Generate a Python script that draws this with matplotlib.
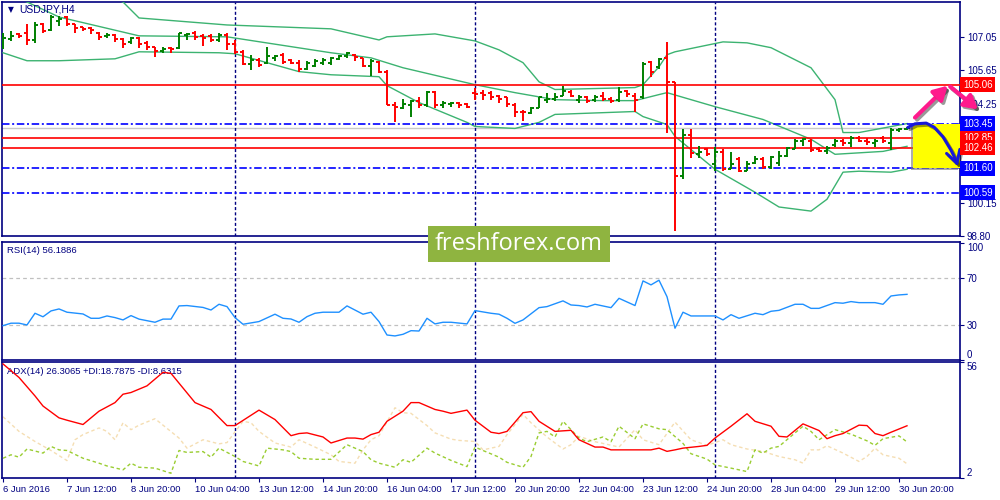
import numpy as np
import matplotlib.pyplot as plt
import matplotlib.transforms as mtransforms
import matplotlib.patheffects as pe
from matplotlib.patches import Rectangle, FancyArrowPatch
from matplotlib.path import Path

plt.rcParams['font.family'] = ['Liberation Sans', 'DejaVu Sans']

NAVY = '#000080'

# USDJPY H4 bars, 6 Jun 04:00 .. 30 Jun 20:00
opens = [106.79, 106.96, 107.16, 107.20, 106.91, 107.57, 107.33, 107.70, 107.86, 107.57,
         107.45, 107.41, 107.20, 107.08, 107.12, 106.96, 106.83, 107.00, 106.79, 106.63,
         106.46, 106.58, 106.58, 107.12, 107.20, 107.08, 107.08, 106.91, 107.12, 106.75,
         106.42, 105.93, 106.09, 105.97, 106.17, 106.30, 106.09, 105.97, 105.72, 105.84,
         105.97, 105.97, 106.13, 106.26, 106.30, 106.17, 105.84, 106.01, 105.60, 104.20,
         104.11, 104.20, 104.40, 104.20, 104.77, 104.20, 104.28, 104.32, 104.24, 104.73,
         104.73, 104.73, 104.61, 104.53, 104.20, 103.95, 103.87, 104.11, 104.44, 104.48,
         104.61, 104.77, 104.44, 104.53, 104.44, 104.61, 104.48, 104.44, 104.81, 104.61,
         104.53, 106.01, 105.80, 106.17, 105.18, 101.27, 102.96, 102.18, 102.38, 101.77,
         102.26, 101.56, 101.97, 101.48, 101.81, 101.97, 101.64, 101.81, 102.09, 102.38,
         102.71, 102.75, 102.38, 102.30, 102.55, 102.75, 102.63, 102.84, 102.75, 102.63,
         102.84, 102.63, 103.17, 103.21]
highs = [107.20, 107.29, 107.20, 107.57, 107.66, 107.62, 107.94, 107.90, 107.90, 107.57,
         107.45, 107.45, 107.24, 107.20, 107.16, 107.00, 107.04, 107.04, 106.87, 106.63,
         106.63, 106.63, 107.20, 107.20, 107.29, 107.16, 107.16, 107.20, 107.20, 106.91,
         106.50, 106.30, 106.17, 106.63, 106.30, 106.38, 106.13, 106.09, 106.05, 106.13,
         106.17, 106.21, 106.30, 106.42, 106.34, 106.17, 106.13, 106.05, 105.68, 104.36,
         104.48, 104.44, 104.57, 104.81, 104.81, 104.40, 104.36, 104.36, 104.32, 104.94,
         104.86, 104.81, 104.65, 104.57, 104.32, 104.03, 104.15, 104.57, 104.73, 104.73,
         105.02, 104.86, 104.65, 104.61, 104.65, 104.77, 104.53, 104.98, 104.86, 104.73,
         106.01, 106.05, 106.17, 106.83, 105.18, 103.21, 103.21, 102.51, 102.42, 102.47,
         102.38, 102.26, 102.05, 101.89, 102.09, 102.05, 102.09, 102.30, 102.47, 102.80,
         102.84, 102.80, 102.47, 102.51, 102.80, 102.80, 102.92, 102.92, 102.84, 102.80,
         102.92, 103.25, 103.25, 103.29]
lows = [106.54, 106.87, 107.00, 106.71, 106.79, 107.20, 107.29, 107.49, 107.49, 107.20,
        107.29, 107.16, 106.91, 107.00, 106.83, 106.58, 106.75, 106.58, 106.50, 106.21,
        106.38, 106.38, 106.54, 106.91, 106.91, 106.67, 106.83, 106.83, 106.50, 106.34,
        105.89, 105.68, 105.80, 105.93, 106.05, 105.93, 105.93, 105.60, 105.68, 105.80,
        105.89, 105.89, 106.09, 106.17, 106.05, 105.80, 105.43, 105.56, 104.20, 103.50,
        104.07, 103.74, 104.11, 104.15, 104.11, 104.11, 104.15, 104.11, 104.11, 104.44,
        104.44, 104.44, 104.32, 104.15, 103.74, 103.54, 103.83, 104.11, 104.32, 104.40,
        104.61, 104.53, 104.32, 104.32, 104.36, 104.40, 104.32, 104.36, 104.57, 103.95,
        104.48, 105.39, 105.72, 103.08, 99.01, 101.15, 102.01, 102.01, 102.10, 101.48,
        101.48, 101.56, 101.44, 101.48, 101.77, 101.56, 101.56, 101.68, 102.05, 102.38,
        102.51, 102.26, 102.26, 102.18, 102.47, 102.51, 102.47, 102.67, 102.55, 102.47,
        102.63, 102.34, 103.12, 103.17]
closes = [107.00, 107.08, 107.08, 106.91, 107.53, 107.29, 107.86, 107.78, 107.57, 107.41,
          107.37, 107.33, 107.04, 107.12, 106.96, 106.75, 107.00, 106.75, 106.63, 106.46,
          106.54, 106.54, 107.20, 107.16, 107.04, 107.00, 106.91, 107.12, 106.75, 106.42,
          105.93, 106.09, 105.89, 106.26, 106.26, 106.01, 105.97, 105.72, 105.97, 106.05,
          106.09, 106.17, 106.26, 106.38, 106.21, 105.84, 106.05, 105.60, 104.20, 104.15,
          104.24, 104.40, 104.20, 104.77, 104.20, 104.32, 104.32, 104.20, 104.15, 104.69,
          104.65, 104.57, 104.48, 104.24, 103.95, 103.91, 104.11, 104.53, 104.48, 104.53,
          104.81, 104.61, 104.57, 104.40, 104.57, 104.48, 104.40, 104.77, 104.69, 104.44,
          105.93, 105.60, 106.13, 105.18, 101.27, 102.96, 102.22, 102.26, 102.18, 102.26,
          101.56, 101.77, 101.48, 101.77, 101.97, 101.64, 102.05, 102.09, 102.42, 102.75,
          102.80, 102.34, 102.30, 102.42, 102.75, 102.63, 102.84, 102.75, 102.67, 102.75,
          102.71, 103.17, 103.21, 103.28]

# Bollinger bands (bar index, price)
upper_idx = [0, 10, 15, 17, 28, 41, 47, 48, 54, 59, 62, 65, 67, 69, 79, 80, 82, 83, 84,
             90, 93, 96, 101, 104, 105, 107, 113]
upper_val = [109.59, 109.06, 108.48, 107.82, 107.53, 107.37, 106.91, 107.04, 107.16, 106.87,
             106.50, 105.97, 105.18, 104.86, 104.94, 105.06, 105.80, 106.30, 106.42, 106.83,
             106.79, 106.59, 105.76, 104.44, 103.08, 103.08, 103.45]
middle_idx = [0, 3, 7, 17, 28, 41, 46, 50, 59, 64, 69, 75, 79, 82, 83, 89, 95, 101, 104, 110, 113]
middle_val = [108.89, 108.48, 107.86, 107.08, 107.04, 106.38, 106.17, 105.76, 105.06, 104.73,
              104.44, 104.40, 104.40, 104.65, 104.73, 104.15, 103.62, 102.80, 102.18, 102.30,
              102.51]
lower_idx = [0, 3, 7, 14, 17, 27, 29, 37, 41, 47, 48, 52, 58, 59, 64, 67, 69, 79, 80, 83,
             84, 89, 94, 97, 101, 103, 105, 107, 111, 113]
lower_val = [106.38, 106.05, 106.05, 106.13, 106.42, 106.38, 106.34, 105.60, 105.47, 105.39,
             105.02, 104.32, 103.50, 103.33, 103.25, 103.50, 103.83, 103.95, 103.74, 103.41,
             102.92, 101.56, 100.61, 100.00, 99.83, 100.32, 101.44, 101.48, 101.44, 101.56]

# RSI(14)
rsi_idx = [0, 1, 2, 3, 4, 5, 6, 7, 8, 10, 11, 12, 13, 14, 15, 16, 17, 19, 20, 21, 22, 23,
           25, 26, 27, 28, 29, 30, 32, 34, 35, 36, 37, 38, 39, 40, 42, 43, 45, 46, 47, 48,
           49, 50, 51, 52, 53, 54, 55, 56, 58, 59, 61, 62, 63, 64, 65, 67, 68, 70, 71, 72,
           73, 74, 76, 77, 79, 80, 81, 82, 83, 84, 85, 86, 89, 90, 91, 92, 94, 95, 96, 97,
           99, 100, 101, 102, 104, 105, 106, 107, 109, 110, 111, 112, 113]
rsi_val = [29.4, 31.5, 31.5, 30.0, 40.0, 37.0, 42.0, 43.7, 40.9, 39.4, 35.7, 35.7, 37.7,
           36.3, 34.3, 38.0, 35.0, 32.3, 35.0, 35.0, 46.3, 46.6, 45.0, 42.8, 47.7, 45.7,
           36.3, 30.6, 32.9, 39.2, 35.7, 35.1, 32.3, 37.1, 40.0, 40.9, 40.9, 46.3, 39.2,
           40.9, 32.9, 21.4, 20.6, 22.0, 25.1, 24.8, 35.7, 30.9, 32.3, 32.3, 30.9, 42.3,
           40.0, 39.2, 35.7, 31.4, 34.3, 44.8, 45.7, 50.6, 47.1, 46.6, 45.4, 47.7, 44.8,
           52.8, 46.6, 67.7, 64.3, 68.3, 54.2, 27.2, 40.9, 37.7, 37.7, 34.3, 38.8, 35.7,
           40.0, 38.8, 41.7, 42.5, 47.7, 47.7, 44.2, 44.2, 49.1, 48.6, 50.0, 49.1, 49.1,
           47.7, 54.8, 55.7, 56.19]

# ADX(14), +DI, -DI
adx_idx = [0, 2, 4, 5, 7, 8, 10, 12, 14, 15, 16, 18, 20, 21, 24, 26, 28, 29, 32, 34, 36, 37,
           38, 40, 41, 43, 44, 45, 46, 47, 48, 50, 51, 52, 54, 55, 56, 58, 59, 61, 62, 63,
           64, 65, 66, 67, 69, 71, 72, 74, 75, 76, 79, 81, 82, 83, 84, 85, 87, 88, 89, 91,
           93, 94, 96, 97, 98, 100, 102, 103, 104, 105, 107, 108, 109, 110, 111, 113]
adx_val = [55.1, 48.8, 40.2, 35.5, 30.0, 28.9, 26.9, 33.1, 37.1, 41.0, 41.8, 44.9, 51.2,
           50.7, 37.1, 33.9, 26.4, 26.4, 33.6, 29.2, 21.7, 22.7, 23.0, 21.1, 18.3, 20.6,
           20.6, 20.1, 22.2, 23.3, 28.4, 33.1, 37.1, 37.1, 33.9, 33.1, 32.1, 33.6, 28.9,
           23.3, 22.7, 23.7, 28.0, 32.4, 32.9, 28.4, 23.7, 24.2, 19.8, 16.4, 16.4, 15.1,
           15.1, 15.1, 15.9, 14.4, 15.1, 15.9, 16.7, 17.2, 20.6, 26.1, 31.9, 28.4, 26.1,
           21.4, 21.1, 27.2, 24.1, 20.3, 21.7, 22.7, 26.6, 26.4, 22.7, 21.7, 23.3, 26.31]
pdi_idx = [0, 1, 2, 3, 5, 6, 7, 8, 10, 12, 13, 15, 16, 17, 19, 21, 22, 23, 25, 26, 27, 29,
           30, 32, 33, 35, 36, 37, 39, 41, 43, 45, 46, 47, 49, 50, 51, 53, 54, 56, 58, 59,
           60, 62, 63, 65, 66, 67, 68, 69, 70, 71, 72, 73, 75, 76, 77, 79, 80, 82, 83, 85,
           86, 88, 89, 91, 93, 94, 95, 96, 97, 99, 100, 101, 102, 104, 106, 108, 109, 110,
           112, 113]
pdi_val = [11.2, 12.8, 11.7, 15.5, 13.6, 16.7, 15.1, 14.8, 11.2, 8.9, 7.6, 5.8, 8.9, 7.0,
           6.6, 4.2, 14.8, 13.9, 14.3, 11.7, 15.9, 12.0, 9.7, 7.6, 15.9, 15.1, 14.3, 11.2,
           10.7, 10.7, 17.5, 14.3, 10.5, 8.9, 7.0, 10.5, 9.3, 15.9, 13.6, 10.2, 7.3, 16.4,
           14.8, 11.7, 9.3, 7.0, 12.0, 23.0, 23.7, 21.1, 28.4, 24.5, 20.6, 18.9, 21.1, 18.9,
           26.1, 20.3, 27.2, 24.9, 24.5, 18.1, 13.3, 10.8, 8.1, 6.6, 5.0, 15.1, 13.6, 15.9,
           16.7, 23.0, 26.1, 23.7, 19.8, 24.5, 22.4, 19.3, 17.2, 20.3, 21.6, 18.79]
mdi_idx = [0, 2, 4, 6, 8, 9, 10, 12, 13, 14, 15, 16, 17, 19, 20, 22, 23, 25, 27, 28, 30, 31,
           32, 34, 36, 37, 39, 41, 42, 44, 45, 46, 47, 49, 50, 51, 53, 54, 56, 57, 59, 60,
           62, 63, 65, 66, 68, 70, 71, 72, 74, 75, 77, 79, 80, 82, 84, 86, 88, 90, 91, 93,
           95, 97, 99, 100, 101, 102, 103, 105, 107, 108, 109, 110, 112, 113]
mdi_val = [30.5, 23.7, 19.0, 14.8, 10.1, 19.8, 22.2, 25.3, 23.7, 19.8, 27.7, 24.5, 26.6,
           29.6, 26.6, 20.6, 15.9, 19.8, 17.9, 18.5, 28.4, 27.7, 23.7, 18.3, 16.4, 19.8,
           16.4, 12.8, 9.7, 8.9, 15.1, 19.8, 21.7, 34.7, 32.4, 32.1, 26.4, 23.0, 20.1, 19.5,
           19.0, 15.1, 16.7, 22.2, 31.6, 27.7, 21.1, 15.5, 17.5, 21.4, 18.9, 18.1, 16.4,
           24.5, 19.8, 17.5, 28.0, 19.8, 17.2, 19.8, 17.5, 15.5, 14.4, 12.0, 10.5, 8.9,
           15.1, 15.1, 17.0, 13.6, 9.7, 12.0, 15.9, 12.8, 11.2, 8.63]

xtick_pos = list(range(0, 113, 8))
xtick_labels = ['6 Jun 2016', '7 Jun 12:00', '8 Jun 20:00', '10 Jun 04:00', '13 Jun 12:00',
                '14 Jun 20:00', '16 Jun 04:00', '17 Jun 12:00', '20 Jun 20:00', '22 Jun 04:00',
                '23 Jun 12:00', '24 Jun 20:00', '28 Jun 04:00', '29 Jun 12:00', '30 Jun 20:00']
price_ticks = [107.05, 105.65, 104.25, 100.15, 98.80]
week_breaks = [29, 59, 89]
red_levels = [105.06, 102.85, 102.46]
blue_levels = [103.45, 101.60, 100.59]
last_price = 103.28
target_zone = (101.60, 103.45)

fig = plt.figure(figsize=(10, 5), dpi=100)
ax = fig.add_axes([0.002, 0.528, 0.958, 0.468])
ax_rsi = fig.add_axes([0.002, 0.28, 0.958, 0.236])
ax_adx = fig.add_axes([0.002, 0.044, 0.958, 0.232])

x_left, x_right = -0.125, 119.625
for a in (ax, ax_rsi, ax_adx):
    a.set_xlim(x_left, x_right)
    for s in a.spines.values():
        s.set_color(NAVY)
        s.set_linewidth(1.2)
    a.yaxis.tick_right()
    a.tick_params(axis='y', length=3, color=NAVY, labelcolor=NAVY, labelsize=7, pad=2)
    for b in week_breaks:
        a.axvline(b, color=NAVY, lw=1, ls=(0, (2.2, 1.6)), zorder=2)

# ---- price panel
o = np.array(opens)
h = np.array(highs)
l = np.array(lows)
c = np.array(closes)
x = np.arange(len(c))
cols = np.where(c >= o, '#008000', '#ff0000')
ax.vlines(x, l, h, colors=cols, lw=1.4, zorder=4)
ax.hlines(o, x - 0.4, x, colors=cols, lw=1.4, zorder=4)
ax.hlines(c, x, x + 0.4, colors=cols, lw=1.4, zorder=4)

band_col = '#3cb371'
ax.plot(upper_idx, upper_val, color=band_col, lw=1, zorder=3)
ax.plot(middle_idx, middle_val, color=band_col, lw=1, zorder=3)
ax.plot(lower_idx, lower_val, color=band_col, lw=1, zorder=3)

ax.axhline(last_price, color='#c8c8c8', lw=1, zorder=1)
for lv in red_levels:
    ax.axhline(lv, color='#ff0000', lw=1.2, zorder=3)
for lv in blue_levels:
    ax.axhline(lv, color='#0000ff', lw=1.2, ls=(0, (4.5, 1.6, 1.2, 1.6)), zorder=3)

ax.set_ylim(98.80, 108.48)
ax.set_yticks(price_ticks)
ax.set_yticklabels([f'{v:.2f}' for v in price_ticks])
ax.tick_params(axis='x', bottom=False, labelbottom=False)

# yellow target zone and hand-drawn arrows
zone = Rectangle((113.75, target_zone[0]), x_right - 113.75, target_zone[1] - target_zone[0],
                 fc='#ffff00', ec='none', zorder=6,
                 path_effects=[pe.SimplePatchShadow(offset=(-1.5, -1.5), shadow_rgbFace='#777777', alpha=0.6),
                               pe.Normal()])
ax.add_patch(zone)

sketch = [(113.1, 103.29), (114.0, 103.44), (115.4, 103.47), (116.4, 103.30),
          (117.5, 102.90), (118.5, 102.35), (119.1, 101.95), (119.35, 101.68)]
curve = Path(sketch, [Path.MOVETO] + [Path.LINETO] * (len(sketch) - 1))
blue_arrow = FancyArrowPatch(path=curve, arrowstyle='->,head_length=9,head_width=5',
                             color='#1818d8', lw=2.2, zorder=8, clip_on=False,
                             joinstyle='round', capstyle='round',
                             path_effects=[pe.SimpleLineShadow(offset=(1.5, -1.5), alpha=0.4), pe.Normal()])
ax.add_patch(blue_arrow)

pink = '#ff1a8c'
for tail, head in [((114.0, 103.70), (118.1, 105.02)), ((118.4, 104.98), (121.9, 104.03))]:
    arr = FancyArrowPatch(tail, head, arrowstyle='-|>,head_length=8,head_width=4.5',
                          color=pink, lw=3, shrinkA=0, shrinkB=0, zorder=9, clip_on=False,
                          path_effects=[pe.SimpleLineShadow(offset=(1.5, -1.5), alpha=0.4), pe.Normal()])
    ax.add_patch(arr)

# price tags on the right scale
trans = mtransforms.blended_transform_factory(ax.transAxes, ax.transData)
ax.text(1.003, last_price, f'{last_price:.2f}', transform=trans, ha='left', va='center',
        fontsize=7, color=NAVY, zorder=9, clip_on=False,
        bbox=dict(boxstyle='square,pad=0.2', fc='#e8e8e8', ec='none'))
for lv in red_levels:
    ax.text(1.003, lv, f'{lv:.2f}', transform=trans, ha='left', va='center', fontsize=7,
            color='white', zorder=10, clip_on=False,
            bbox=dict(boxstyle='square,pad=0.25', fc='#ff0000', ec='none'))
for lv in blue_levels:
    ax.text(1.003, lv, f'{lv:.2f}', transform=trans, ha='left', va='center', fontsize=7,
            color='white', zorder=10, clip_on=False,
            bbox=dict(boxstyle='square,pad=0.25', fc='#0000ff', ec='none'))

ax.text(0.006, 0.966, '\u25bc', transform=ax.transAxes, fontsize=5.5, color=NAVY,
        va='center', ha='left', family='DejaVu Sans')
ax.text(0.018, 0.966, 'USDJPY,H4', transform=ax.transAxes, fontsize=7.5, color=NAVY,
        va='center', ha='left')

# ---- RSI panel
ax_rsi.plot(rsi_idx, rsi_val, color='#1e90ff', lw=1, zorder=3)
for lv in (70, 30):
    ax_rsi.axhline(lv, color='#c0c0c0', lw=0.9, ls=(0, (3, 2.5)), zorder=1)
ax_rsi.set_ylim(0, 101)
ax_rsi.set_yticks([0, 30, 70, 100])
ax_rsi.tick_params(axis='x', bottom=False, labelbottom=False)
ax_rsi.text(0.005, 0.924, 'RSI(14) 56.1886', transform=ax_rsi.transAxes, fontsize=6.8,
            color=NAVY, va='center', ha='left')

# ---- ADX panel
ax_adx.plot(mdi_idx, mdi_val, color='#f5deb3', lw=1, ls=(0, (2.5, 2)), zorder=2)
ax_adx.plot(pdi_idx, pdi_val, color='#9acd32', lw=1, ls=(0, (2.5, 2)), zorder=3)
ax_adx.plot(adx_idx, adx_val, color='#ff0000', lw=1, zorder=4)
ax_adx.set_ylim(2, 56)
ax_adx.set_yticks([2, 56])
ax_adx.text(0.005, 0.914, 'ADX(14) 26.3065 +DI:18.7875 -DI:8.6315', transform=ax_adx.transAxes,
            fontsize=6.8, color=NAVY, va='center', ha='left')

ax_adx.set_xticks(xtick_pos)
ax_adx.set_xticklabels(xtick_labels, ha='left')
ax_adx.tick_params(axis='x', length=3, color=NAVY, labelcolor=NAVY, labelsize=6.8, pad=2)

for a, top_val, bottom_val in ((ax_rsi, 100, 0), (ax_adx, 56, 2)):
    for t, v in zip(a.yaxis.get_major_ticks(), a.get_yticks()):
        if v == top_val:
            t.label2.set_va('top')
        elif v == bottom_val:
            t.label2.set_va('bottom')

# watermark
fig.patches.append(Rectangle((0.428, 0.476), 0.182, 0.072, transform=fig.transFigure,
                             fc='#8fb440', ec='none', zorder=20))
fig.text(0.519, 0.511, 'freshforex.com', color='white', fontsize=17, ha='center', va='center',
         family='Open Sans', zorder=21)

fig.savefig('out.png', dpi=100, facecolor='white')
